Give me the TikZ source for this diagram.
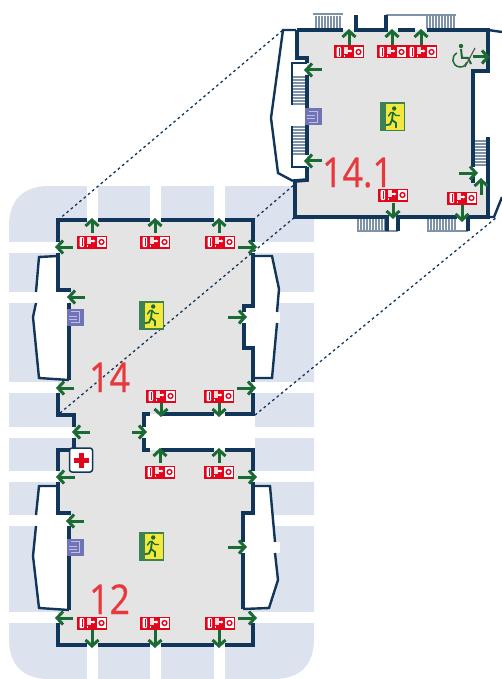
\documentclass[tikz,border=0pt]{standalone}
\usepackage{fontspec}
\setmainfont{Open Sans}
\newfontfamily\labelfont[RawFeature={embolden=0.7}]{Open Sans}
\usetikzlibrary{arrows.meta}
\definecolor{wallblue}{HTML}{12365A}
\definecolor{yardblue}{HTML}{DDE3EE}
\definecolor{floorgrey}{HTML}{E4E4E4}
\definecolor{exitgreen}{HTML}{1A6B33}
\definecolor{signred}{HTML}{E3051B}
\definecolor{labelred}{HTML}{E8383D}
\definecolor{liftblue}{HTML}{7073B8}
\definecolor{stairgrey}{HTML}{7F93A8}
\definecolor{signyellow}{HTML}{F4E83C}
\tikzset{
  wall/.style={draw=wallblue,line width=3.7pt,line join=miter},
  railing/.style={draw=wallblue,line width=2.4pt,line join=miter},
  stairline/.style={draw=stairgrey,line width=1.5pt},
  exitarrow/.style={draw=exitgreen,line width=3pt,-{Straight Barb[length=6pt,width=13pt]}},
  sightline/.style={draw=wallblue,line width=1.3pt,dash pattern=on 2.6pt off 3pt},
  floorlabel/.style={text=labelred,font=\labelfont\fontsize{41}{41}\selectfont,anchor=base west,inner sep=0pt,transform shape,xscale=.87},
  firesign/.pic={
    \fill[signred] (-15,-6.5) rectangle (15,6.5);
    \fill[white,rounded corners=1pt] (-12.5,-5) rectangle (-8,5);
    \draw[signred,line width=0.6pt] (-9.5,-4) -- (-9.5,4);
    \fill[white!85!signred] (-5.5,-5) rectangle (-1.5,2);
    \fill[white] (-5.5,3) rectangle (-4.5,5);
    \draw[white,line width=1.2pt,-{Latex[length=2.5pt,width=3.5pt]}] (-1.5,-1) -- (3.5,-1);
    \fill[white] (5,-5) rectangle (14,5);
    \draw[signred,line width=1.4pt] (9.5,0) circle (2.4pt);
  },
  exitsign/.pic={
    \fill[exitgreen!85!white] (-12.5,-14.5) rectangle (12.5,14.5);
    \fill[signyellow] (-6.5,-12.5) rectangle (11.5,13);
    \draw[exitgreen,line width=1.8pt,line cap=round] (1,-4.5) -- (0,3) -- (4,6) -- (4,10.5);
    \draw[exitgreen,line width=1.8pt,line cap=round] (0,3) -- (-2,7.5) -- (-5.5,8);
    \draw[exitgreen,line width=1.4pt,line cap=round] (-3.5,-1) -- (-1,-4.5) -- (1,-4.5) -- (4,-1.5) -- (7.5,-1.5);
    \fill[exitgreen] (2.2,-8.5) circle (2.2pt);
  },
  liftsign/.pic={
    \fill[liftblue] (-8.5,-8.5) rectangle (8.5,8.5);
    \draw[liftblue!45!white,line width=1pt] (-4,-5.5) -- (4,-5.5) -- (4,5.5) -- (-4,5.5);
    \draw[liftblue!45!white,line width=1pt] (-6,-1) -- (1.5,-1) (-6,2) -- (1.5,2);
  },
}
\begin{document}
\begin{tikzpicture}[x=1pt,y=-1pt]
\useasboundingbox (0,0) rectangle (502,679);
% yard
\fill[yardblue] (49,186) -- (314,186) -- (314,639) .. controls (314,665) and (300,679) .. (274,679)
  -- (49,679) .. controls (23,679) and (9,665) .. (9,639) -- (9,226) .. controls (9,200) and (23,186) .. (49,186) -- cycle;
\foreach \ya/\yb in {242/253,292/303,382/393,427/438,471/482,515/526,612/623}
  \fill[white] (0,\ya) rectangle (314,\yb);
\foreach \xa/\xb in {87/98,150/161,214/225}
  \fill[white] (\xa,180) rectangle (\xb,679);
\fill[white] (144,414) rectangle (255,450);
% floor 12 and 14
\fill[floorgrey] (58,220) -- (253,220) -- (253,306) -- (244,306) -- (244,348) -- (253,348) -- (253,414)
  -- (144,414) -- (144,450) -- (253,450) -- (253,513) -- (243,513) -- (243,609) -- (253,612) -- (253,645)
  -- (58,645) -- (58,612) -- (69,610) -- (69,513) -- (58,513) -- (58,450) -- (74,450) -- (74,415)
  -- (58,415) -- (58,382) -- (69,380) -- (69,290) -- (58,290) -- cycle;
\fill[white] (39,257) -- (58,255) -- (58,290) -- (69,290) -- (69,380) -- (39,378) -- (33,317) -- cycle;
\fill[white] (39,486) -- (58,486) -- (58,513) -- (69,513) -- (69,610) -- (39,608) -- (33,556) -- cycle;
\fill[white] (253,256) -- (272,256) -- (279,289) -- (272,378) -- (253,378) -- (253,348) -- (244,348) -- (244,306) -- (253,306) -- cycle;
\fill[white] (253,486) -- (270,486) -- (278,580) -- (269,608) -- (243,609) -- (243,513) -- (253,513) -- cycle;
\foreach \ya/\yb in {292/303,515/526}
  \fill[white] (33,\ya) rectangle (69,\yb);
\fill[white] (243,312) rectangle (280,323);
\fill[white] (243,542) rectangle (280,553);
% walls 12 and 14
\draw[wall] (58,242) -- (58,220) -- (87,220);
\draw[wall] (98,220) -- (150,220) (161,220) -- (214,220) (225,220) -- (253,220) -- (253,242);
\draw[wall] (58,253) -- (58,290) -- (69,290) -- (69,292);
\draw[wall] (69,303) -- (69,380) (58,393) -- (58,415) -- (74,415) -- (74,427);
\draw[wall] (74,438) -- (74,450) -- (58,450) -- (58,471);
\draw[wall] (58,482) -- (58,513) -- (69,513) -- (69,515);
\draw[wall] (69,526) -- (69,610) (58,623) -- (58,645) -- (87,645);
\draw[wall] (98,645) -- (150,645) (161,645) -- (214,645) (225,645) -- (253,645) -- (253,623);
\draw[wall] (253,253) -- (253,306) -- (244,306) -- (244,312);
\draw[wall] (244,323) -- (244,348) -- (253,348) -- (253,382);
\draw[wall] (253,393) -- (253,414) -- (225,414) (214,414) -- (161,414) (150,414) -- (144,414) -- (144,427);
\draw[wall] (144,438) -- (144,450) -- (150,450) (161,450) -- (214,450) (225,450) -- (253,450) -- (253,471);
\draw[wall] (253,482) -- (253,513) -- (243,513) -- (243,542);
\draw[wall] (243,553) -- (243,609);
\draw[railing] (58,256) -- (39,257) -- (36,292) (36,303) -- (33,317) -- (39,378) -- (69,380);
\draw[railing] (58,486) -- (39,486) -- (36,515) (36,526) -- (33,556) -- (39,608) -- (69,610);
\draw[railing] (253,256) -- (272,256) -- (279,289) -- (277,312) (277,323) -- (272,378) -- (253,378);
\draw[railing] (253,486) -- (270,486) -- (275,542) (275,553) -- (278,580) -- (269,608) -- (243,609);
% floor 14.1
\fill[white] (283,30) -- (271,118) -- (278,173) -- (293,181) -- (307,180) -- (307,30) -- cycle;
\fill[white] (473,30) rectangle (502,217);
\fill[floorgrey] (297,30) -- (488,30) -- (488,71) -- (473,71) -- (473,183) -- (488,183) -- (488,217)
  -- (295,217) -- (295,181) -- (307,180) -- (307,58) -- (297,58) -- cycle;
\foreach \y in {77,80,...,104}
  \draw[stairline] (293,\y) -- (306,\y);
\foreach \y in {127,130,...,154}
  \draw[stairline] (293,\y) -- (306,\y);
\foreach \y in {141,144,...,166}
  \draw[stairline] (475,\y) -- (487,\y);
\foreach \x in {316,319,...,342}
  \draw[stairline] (\x,16) -- (\x,29);
\foreach \x in {427,430,...,455}
  \draw[stairline] (\x,16) -- (\x,29);
\foreach \x in {358,361,...,385}
  \draw[stairline] (\x,219) -- (\x,230);
\foreach \x in {428,431,...,456}
  \draw[stairline] (\x,219) -- (\x,230);
\draw[stairline] (313,14) -- (343,14) (386,15) -- (456,15) (357,231) -- (398,231) (427,231) -- (468,231);
\draw[wall] (297,30) -- (343,30);
\draw[wall] (356,15) -- (356,30) -- (386,30) -- (386,15);
\draw[wall] (398,30) -- (415,30) (427,30) -- (488,30) -- (488,71) -- (473,71) -- (473,167);
\draw[wall] (473,177) -- (473,183);
\draw[wall] (297,30) -- (297,58) -- (307,58) -- (307,63);
\draw[wall] (307,75) -- (307,155) (307,167) -- (307,180) -- (295,181) -- (295,217) -- (387,217) -- (387,231);
\draw[wall] (398,231) -- (398,217) -- (457,217);
\draw[wall] (468,231) -- (468,217) -- (488,217) -- (488,137);
\draw[railing] (307,63) -- (292,63) -- (292,105) (292,126) -- (292,167) -- (307,167);
\draw[railing] (296,30) -- (283,30) -- (271,118) -- (278,173) -- (293,181);
\draw[railing] (488,30) -- (502,32) (488,217) -- (494,217) -- (502,197);
% sight lines
\draw[sightline] (58,220) -- (283,30);
\draw[sightline] (60,413) -- (295,217);
\draw[sightline] (253,220) -- (295,184);
\draw[sightline] (255,415) -- (497,217);
% exits
\foreach \xa/\ya/\xb/\yb in {92/233/92/218,155/233/155/218,219/233/219/218,
    73/247/55/247,85/297/67/297,74/388/56/388,90/432/72/432,75/477/56/477,84/521/66/521,73/618/55/618,
    238/247/257/247,228/317/247/317,237/388/256/388,132/432/147/432,238/477/257/477,228/547/247/547,238/618/257/618,
    161/403/161/417,219/403/219/417,160/463/160/448,219/463/219/448,92/630/92/648,155/630/155/648,219/630/219/648,
    349/46/349/29,392/46/392/29,421/46/421/29,473/57/490/57,322/70/304/70,322/161/304/161,459/173/478/173,
    481/195/481/178,393/203/393/219,462/205/462/222}
  \draw[exitarrow] (\xa,\ya) -- (\xb,\yb);
% signs
\foreach \x/\y in {92/242,155/242,220/242,161/396,219/396,160/472,219/472,92/623,155/623,220/623,
    349/52,392/52,422/52,393/195,462/198}
  \pic at (\x,\y) {firesign};
\foreach \x/\y in {151/315,151/546,392/117}
  \pic at (\x,\y) {exitsign};
\foreach \x/\y in {75/317,75/547,313/117}
  \pic at (\x,\y) {liftsign};
\node[draw=wallblue,line width=1.5pt,fill=white,rounded corners=2.5pt,minimum width=23pt,minimum height=24pt,inner sep=0pt] (firstaid) at (81,460) {};
\fill[signred] (firstaid.center) ++(-2.5,-7.5) rectangle ++(5,15);
\fill[signred] (firstaid.center) ++(-7.5,-2.5) rectangle ++(15,5);
% wheelchair
\fill[exitgreen] (461,46) circle (2.2pt);
\draw[exitgreen,line width=2pt] (461,49) -- (462,58) -- (468,58) -- (471,64);
\draw[exitgreen,line width=1.5pt] (457,53) .. controls (451,56) and (451,66) .. (460,67) .. controls (464,67) and (466,65) .. (467,62);
\draw[black!65,line width=1.2pt] (465,67) -- (475,48);
% labels
\node[floorlabel] (label141) at (322,187) {14.1};
\node[floorlabel] (label14) at (89,392) {14};
\node[floorlabel] (label12) at (89,614) {12};
\end{tikzpicture}
\end{document}
